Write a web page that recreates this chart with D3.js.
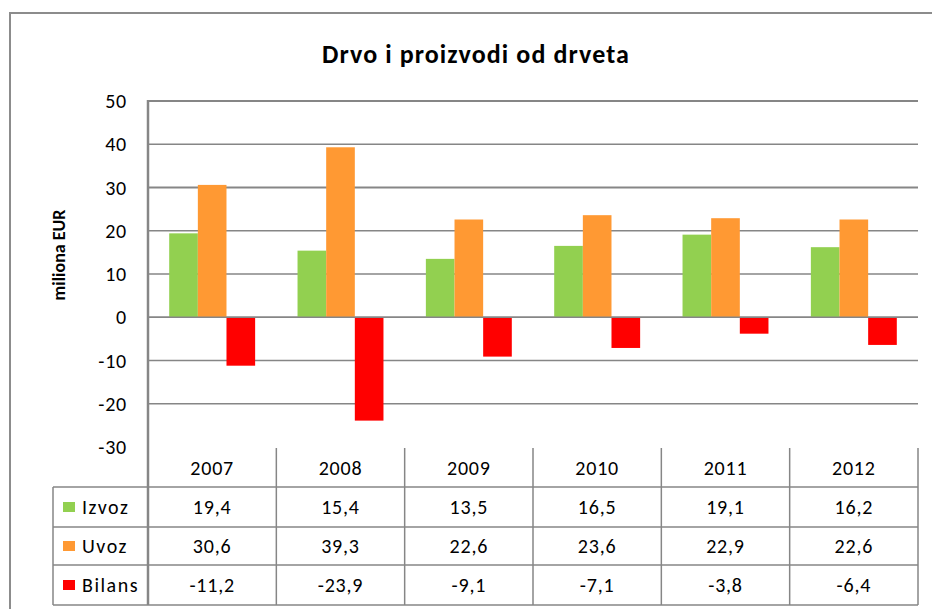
<!DOCTYPE html>
<html>
<head>
<meta charset="utf-8">
<script src="https://cdn.jsdelivr.net/npm/d3@7"></script>
<style>
  body { margin: 0; background: #fff; }
  text { font-family: Carlito, Lato, "Open Sans", sans-serif; fill: #000; }
</style>
</head>
<body>
<svg id="chart" width="932" height="609"></svg>
<script>
// data
var years = ["2007", "2008", "2009", "2010", "2011", "2012"];
var seriesNames = ["Izvoz", "Uvoz", "Bilans"];
var izvoz = [19.4, 15.4, 13.5, 16.5, 19.1, 16.2];
var uvoz = [30.6, 39.3, 22.6, 23.6, 22.9, 22.6];
var bilans = [-11.2, -23.9, -9.1, -7.1, -3.8, -6.4];
var yTicks = [50, 40, 30, 20, 10, 0, -10, -20, -30];
var COLORS = ["#92D050", "#FF9933", "#FF0000"];
var GRID = "#868686";
var FS = "20px";
var LS = "0.8px";

var seriesValues = [izvoz, uvoz, bilans];

var svg = d3.select("#chart");

// outer frame
svg.append("rect")
  .attr("x", 10).attr("y", 13)
  .attr("width", 940).attr("height", 620)
  .attr("fill", "none")
  .attr("stroke", "#8c8c8c")
  .attr("stroke-width", 2);

var PLOT_L = 148, PLOT_R = 918;
var LEG_L = 53;

var x = d3.scaleBand().domain(years).range([PLOT_L, PLOT_R]).paddingInner(0).paddingOuter(0);
var xs = d3.scaleBand().domain(seriesNames).range([0, x.bandwidth()]).paddingInner(0).paddingOuter(0.74);
var y = d3.scaleLinear().domain([-30, 50]).range([447, 101]);

// title
svg.append("text")
  .attr("x", 476).attr("y", 63)
  .attr("text-anchor", "middle")
  .style("font-size", "26px")
  .style("font-weight", "bold")
  .style("letter-spacing", "1.1px")
  .text("Drvo i proizvodi od drveta");

// axis title
svg.append("text")
  .attr("transform", "translate(65,255) rotate(-90)")
  .attr("text-anchor", "middle")
  .style("font-size", "18px")
  .style("font-weight", "bold")
  .text("miliona EUR");

// gridlines (no line at -30, the table sits there)
svg.append("g").selectAll("line")
  .data(yTicks.filter(function(d) { return d > -30; }))
  .enter().append("line")
  .attr("x1", PLOT_L).attr("x2", PLOT_R)
  .attr("y1", function(d) { return y(d); })
  .attr("y2", function(d) { return y(d); })
  .attr("stroke", GRID)
  .attr("stroke-width", function(d) { return d == 50 || d == 30 ? 2 : 1.5; });

// y tick labels
svg.append("g").selectAll("text")
  .data(yTicks)
  .enter().append("text")
  .attr("x", 127)
  .attr("y", function(d) { return y(d); })
  .attr("dy", "0.35em")
  .attr("text-anchor", "end")
  .style("font-size", FS)
  .style("letter-spacing", LS)
  .text(function(d) { return d; });

// bars
var groups = svg.append("g").selectAll("g")
  .data(years)
  .enter().append("g")
  .attr("transform", function(d) { return "translate(" + x(d) + ",0)"; });

groups.selectAll("rect")
  .data(function(d, i) {
    return seriesNames.map(function(s, j) { return { s: s, v: seriesValues[j][i], c: COLORS[j] }; });
  })
  .enter().append("rect")
  .attr("x", function(d) { return xs(d.s); })
  .attr("width", xs.bandwidth())
  .attr("y", function(d) { return y(Math.max(0, d.v)); })
  .attr("height", function(d) { return Math.abs(y(d.v) - y(0)); })
  .attr("fill", function(d) { return d.c; });

// zero line on top of bars
svg.append("line")
  .attr("x1", PLOT_L).attr("x2", PLOT_R)
  .attr("y1", y(0)).attr("y2", y(0))
  .attr("stroke", GRID).attr("stroke-width", 1.5);

/********** data table **********/
var HEAD_TOP = 448;
var rowLines = [487, 527, 565, 605];

// vertical lines between categories
var vx = years.map(function(d) { return x(d); }).concat([PLOT_R]);
svg.append("g").selectAll("line")
  .data(vx.slice(1))
  .enter().append("line")
  .attr("x1", function(d) { return d; }).attr("x2", function(d) { return d; })
  .attr("y1", HEAD_TOP).attr("y2", rowLines[3])
  .attr("stroke", GRID).attr("stroke-width", 1.5);

// left legend column line
svg.append("line")
  .attr("x1", LEG_L).attr("x2", LEG_L)
  .attr("y1", rowLines[0]).attr("y2", rowLines[3])
  .attr("stroke", GRID).attr("stroke-width", 1.5);

// horizontal row lines
svg.append("g").selectAll("line")
  .data(rowLines)
  .enter().append("line")
  .attr("x1", LEG_L).attr("x2", PLOT_R)
  .attr("y1", function(d) { return d; }).attr("y2", function(d) { return d; })
  .attr("stroke", GRID).attr("stroke-width", 1.5);

// y axis line, runs through table
svg.append("line")
  .attr("x1", PLOT_L).attr("x2", PLOT_L)
  .attr("y1", 100).attr("y2", rowLines[3])
  .attr("stroke", GRID).attr("stroke-width", 2.5);

// header years
svg.append("g").selectAll("text")
  .data(years)
  .enter().append("text")
  .attr("x", function(d) { return x(d) + x.bandwidth() / 2; })
  .attr("y", 468)
  .attr("dy", "0.35em")
  .attr("text-anchor", "middle")
  .style("font-size", FS)
  .style("letter-spacing", LS)
  .text(function(d) { return d; });

var fmt = function(v) { return d3.format(".1f")(v).replace(".", ",").replace("\u2212", "-"); };

seriesNames.forEach(function(s, j) {
  var top = rowLines[j], bot = rowLines[j + 1];
  var cy = (top + bot) / 2;
  svg.append("rect")
    .attr("x", 63).attr("y", cy - 5)
    .attr("width", 12).attr("height", 10)
    .attr("fill", COLORS[j]);
  svg.append("text")
    .attr("x", 82).attr("y", cy)
    .attr("dy", "0.35em")
    .style("font-size", FS)
    .style("letter-spacing", "1.5px")
    .text(s);
  svg.append("g").selectAll("text")
    .data(seriesValues[j])
    .enter().append("text")
    .attr("x", function(d, i) { return x(years[i]) + x.bandwidth() / 2; })
    .attr("y", cy)
    .attr("dy", "0.35em")
    .attr("text-anchor", "middle")
    .style("font-size", FS)
    .style("letter-spacing", LS)
    .text(function(d) { return fmt(d); });
});
</script>
</body>
</html>
